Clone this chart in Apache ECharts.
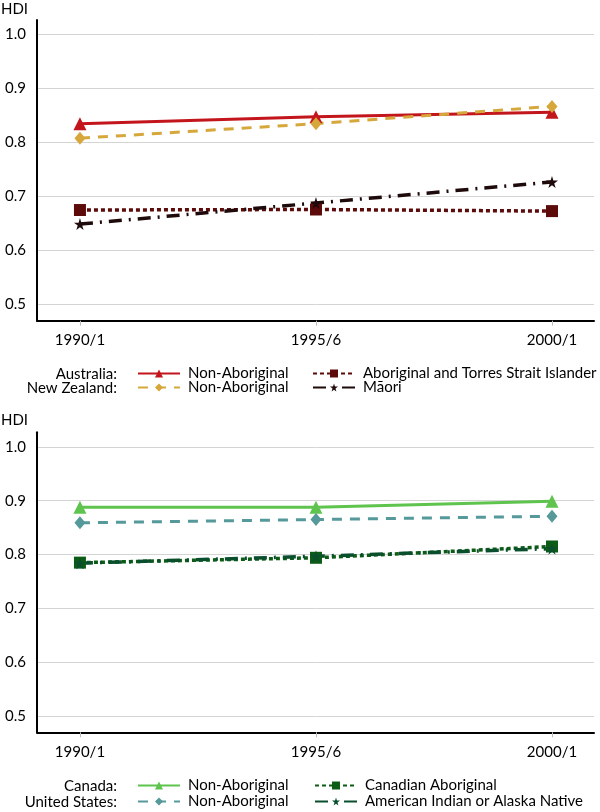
<!DOCTYPE html>
<html>
<head>
<meta charset="utf-8">
<script src="https://cdn.jsdelivr.net/npm/echarts@6/dist/echarts.min.js"></script>
<style>
html,body{margin:0;padding:0;background:#fff;}
#chart{width:600px;height:812px;}
</style>
</head>
<body>
<div id="chart"></div>
<script>
const categories = ['1990/1', '1995/6', '2000/1'];
const yTicks = [0.5, 0.6, 0.7, 0.8, 0.9, 1.0];

const ausNonAboriginal = [0.835, 0.848, 0.856];
const ausAboriginal = [0.675, 0.676, 0.673];
const nzNonAboriginal = [0.808, 0.835, 0.867];
const nzMaori = [0.649, 0.688, 0.727];

const canNonAboriginal = [0.888, 0.888, 0.899];
const canAboriginal = [0.785, 0.794, 0.815];
const usNonAboriginal = [0.859, 0.865, 0.871];
const usAIAN = [0.784, 0.797, 0.811];

const FONT = 'Lato';
const FS = 15;
const STAR = 'path://M50,0 L61,35 L98,35 L68,57 L79,91 L50,70 L21,91 L32,57 L2,35 L39,35 Z';

function pts(arr) { return arr.map((v, i) => [i, v]); }

const catIdx = categories.map((c, i) => i);

function xAxisDef(gridIndex) {
  return {
    type: 'value', gridIndex: gridIndex, min: -0.182, max: 2.178,
    axisLine: { show: true, onZero: false, lineStyle: { color: '#000', width: 2 } },
    axisTick: { show: true, customValues: catIdx, length: 5, lineStyle: { color: '#bbb', width: 1 } },
    axisLabel: { customValues: catIdx, formatter: v => categories[Math.round(v)], color: '#000', fontSize: FS, fontFamily: FONT, margin: 12 },
    splitLine: { show: false }
  };
}
function yAxisDef(gridIndex) {
  return {
    type: 'value', gridIndex: gridIndex, min: 0.47, max: 1.027,
    axisLine: { show: true, onZero: false, lineStyle: { color: '#000', width: 2 } },
    axisTick: { show: false, customValues: yTicks },
    axisLabel: { customValues: yTicks, formatter: v => v.toFixed(1), color: '#000', fontSize: FS, fontFamily: FONT, margin: 11 },
    splitLine: { show: true, lineStyle: { color: '#d4d4d4', width: 1 } }
  };
}

function lineSeries(name, data, gi, color, type, width, symbol, size) {
  return {
    name: name, type: 'line', xAxisIndex: gi, yAxisIndex: gi,
    data: pts(data), symbol: symbol, symbolSize: size, showSymbol: true,
    lineStyle: { color: color, width: width, type: type },
    itemStyle: { color: color },
    emphasis: { disabled: true }, animation: false
  };
}

const series = [
  lineSeries('Australia|Non-Aboriginal', ausNonAboriginal, 0, '#c3161c', 'solid', 3, 'triangle', 13),
  lineSeries('New Zealand|Non-Aboriginal', nzNonAboriginal, 0, '#d6a73b', [10, 8], 3, 'diamond', [11, 13]),
  lineSeries('Australia|Aboriginal and Torres Strait Islander', ausAboriginal, 0, '#5c0a0a', [4, 3], 3.5, 'rect', 12),
  lineSeries('New Zealand|M\u0101ori', nzMaori, 0, '#1e0a0a', [13, 7, 2, 7], 3.5, STAR, 12),
  lineSeries('Canada|Non-Aboriginal', canNonAboriginal, 1, '#5ec44e', 'solid', 3, 'triangle', 13),
  lineSeries('United States|Non-Aboriginal', usNonAboriginal, 1, '#56999a', [10, 8], 3, 'diamond', [11, 13]),
  lineSeries('Canada|Canadian Aboriginal', canAboriginal, 1, '#0c5c16', [4, 3], 3.5, 'rect', 12),
  lineSeries('United States|American Indian or Alaska Native', usAIAN, 1, '#0a4f2d', [13, 7, 2, 7], 3.5, STAR, 12)
];

function legendDef(name, left, top) {
  return {
    data: [name], left: left, top: top, padding: 0, itemWidth: 42, itemHeight: 10,
    selectedMode: false,
    formatter: n => n.split('|')[1],
    textStyle: { color: '#000', fontSize: FS, fontFamily: FONT, padding: [0, 0, 0, 3] }
  };
}

const legends = [
  legendDef(series[0].name, 137, 366),
  legendDef(series[2].name, 312, 366),
  legendDef(series[1].name, 137, 380),
  legendDef(series[3].name, 312, 380),
  legendDef(series[4].name, 137, 778),
  legendDef(series[6].name, 314, 778),
  legendDef(series[5].name, 137, 794),
  legendDef(series[7].name, 314, 794)
];

function label(text, x, y) {
  return { type: 'text', x: x, y: y, style: { text: text, align: 'right', verticalAlign: 'middle', fill: '#000', font: FS + 'px ' + FONT } };
}

const option = {
  backgroundColor: '#fff',
  animation: false,
  title: [
    { text: 'HDI', left: 1, top: 2, padding: 0, textStyle: { fontSize: FS, fontWeight: 'normal', color: '#000', fontFamily: FONT } },
    { text: 'HDI', left: 1, top: 413, padding: 0, textStyle: { fontSize: FS, fontWeight: 'normal', color: '#000', fontFamily: FONT } }
  ],
  grid: [
    { left: 37, top: 20, width: 557, height: 300.7 },
    { left: 37, top: 432.3, width: 557, height: 300 }
  ],
  xAxis: [xAxisDef(0), xAxisDef(1)],
  yAxis: [yAxisDef(0), yAxisDef(1)],
  legend: legends,
  graphic: [
    label('Australia:', 117, 374),
    label('New Zealand:', 117, 388),
    label('Canada:', 117, 786),
    label('United States:', 117, 802)
  ],
  series: series
};

const chart = echarts.init(document.getElementById('chart'), null, { renderer: 'canvas' });
chart.setOption(option);
</script>
</body>
</html>
